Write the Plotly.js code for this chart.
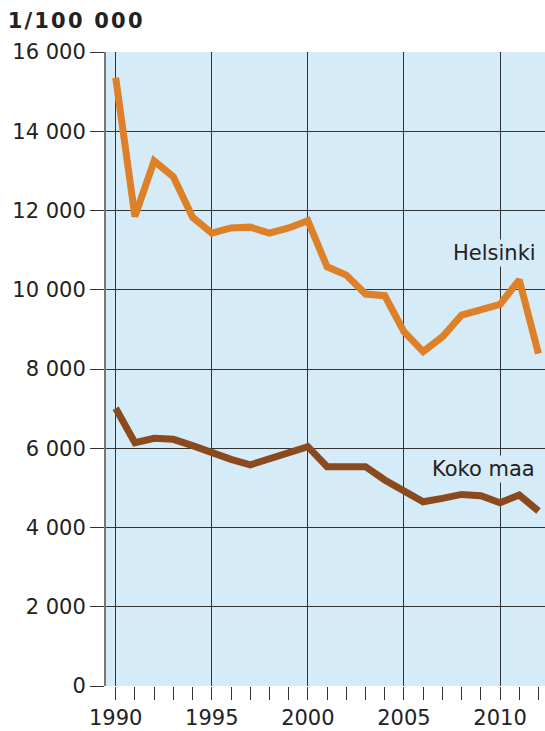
<!DOCTYPE html>
<html>
<head>
<meta charset="utf-8">
<script src="https://cdn.plot.ly/plotly-3.0.1.min.js"></script>
<style>html,body{margin:0;padding:0;background:#fff;}#chart{width:545px;height:731px;}
#chart .gtitle{letter-spacing:2.2px;}</style>
</head>
<body>
<div id="chart"></div>
<script>
const years = [1990,1991,1992,1993,1994,1995,1996,1997,1998,1999,2000,2001,2002,2003,2004,2005,2006,2007,2008,2009,2010,2011,2012];
const helsinki = [15350,11850,13250,12850,11830,11430,11560,11580,11430,11560,11740,10580,10370,9890,9850,8940,8440,8810,9360,9490,9630,10250,8390];
const kokoMaa = [7010,6140,6250,6225,6065,5870,5720,5580,5730,5850,6040,5535,5550,5535,5200,4905,4650,4735,4835,4800,4625,4820,4415];
const seriesNames = ["Helsinki","Koko maa"];
const yTitle = "1/100 000";

const font = "DejaVu Sans, Verdana, sans-serif";
const bg = "#D6EBF8";

const traces = [
  {x: years, y: helsinki, name: seriesNames[0], type: "scatter", mode: "lines",
   line: {color: "#DD8027", width: 7}},
  {x: years, y: kokoMaa, name: seriesNames[1], type: "scatter", mode: "lines",
   line: {color: "#8A4A1E", width: 7}}
];

const layout = {
  width: 545, height: 731,
  margin: {l: 106, r: 0, t: 52, b: 45, pad: 0},
  paper_bgcolor: "#ffffff",
  plot_bgcolor: bg,
  showlegend: false,
  separators: ", ",
  font: {family: font, size: 21, color: "#222"},
  title: {text: "<b>" + yTitle + "</b>", x: 0.014, xanchor: "left", xref: "container",
          y: 1 - 21/731, yanchor: "middle", yref: "container",
          font: {family: font, size: 21, color: "#222"}},
  xaxis: {
    range: [1989.495, 2012.34],
    tick0: 1990, dtick: 5,
    showgrid: true, gridcolor: "#333", gridwidth: 1,
    ticks: "outside", ticklen: 13, tickwidth: 1, tickcolor: "#333",
    minor: {tick0: 1990, dtick: 1, ticks: "outside", ticklen: 13, tickwidth: 1, tickcolor: "#333", showgrid: false},
    showline: false, zeroline: false,
    tickfont: {family: font, size: 21, color: "#222"}
  },
  yaxis: {
    range: [0, 16000],
    tick0: 0, dtick: 2000,
    tickformat: ",",
    showgrid: true, gridcolor: "#333", gridwidth: 1,
    ticks: "outside", ticklen: 14, tickwidth: 1, tickcolor: "#333",
    showline: true, linecolor: "#777", linewidth: 2,
    zeroline: false,
    tickfont: {family: font, size: 21, color: "#222"}
  },
  annotations: [
    {x: 2009.69, y: 10930, xref: "x", yref: "y", text: seriesNames[0], showarrow: false,
     font: {family: font, size: 21, color: "#222"}, bgcolor: bg, borderpad: 1},
    {x: 2009.14, y: 5476, xref: "x", yref: "y", text: seriesNames[1], showarrow: false,
     font: {family: font, size: 21, color: "#222"}, bgcolor: bg, borderpad: 1}
  ]
};

Plotly.newPlot("chart", traces, layout, {displayModeBar: false, staticPlot: true});
</script>
</body>
</html>
